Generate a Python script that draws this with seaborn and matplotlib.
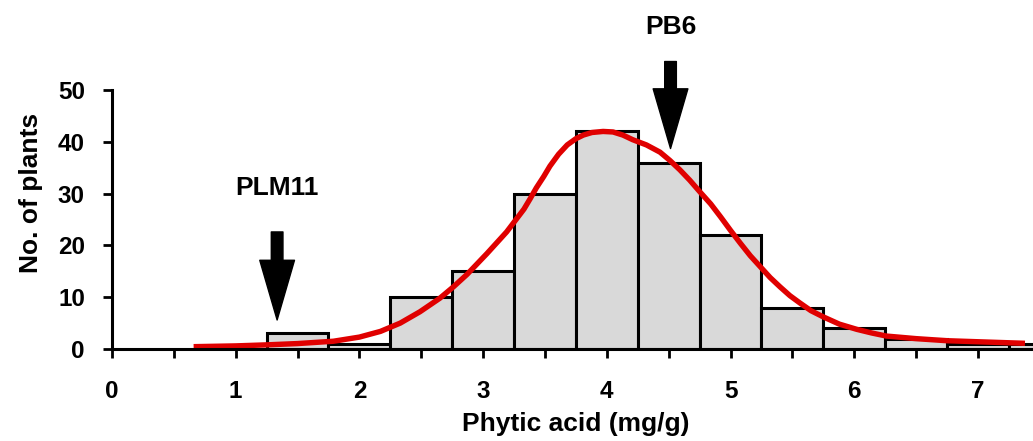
import numpy as np, pandas as pd, matplotlib
matplotlib.use('Agg')
import matplotlib.pyplot as plt
from matplotlib import font_manager
import seaborn as sns

# histogram bins (centre of each 0.5 wide class) and number of plants
bin_centres = [1.5, 2.0, 2.5, 3.0, 3.5, 4.0, 4.5, 5.0, 5.5, 6.0, 6.5, 7.0, 7.5]
plant_counts = [3, 1, 10, 15, 30, 42, 36, 22, 8, 4, 2, 1, 1]
bin_edges = [1.25 + 0.5 * i for i in range(len(bin_centres) + 1)]

# fitted curve
curve_x = [0.66, 1.0, 1.25, 1.5, 1.79, 2.0, 2.17, 2.33, 2.49, 2.65, 2.76, 2.87,
           2.95, 3.03, 3.11, 3.19, 3.26, 3.33, 3.38, 3.43, 3.49, 3.54, 3.61,
           3.68, 3.75, 3.81, 3.88, 3.97, 4.05, 4.13, 4.21, 4.32, 4.43, 4.51,
           4.59, 4.67, 4.75, 4.84, 4.92, 5.0, 5.08, 5.16, 5.24, 5.32, 5.40,
           5.48, 5.56, 5.65, 5.75, 5.88, 6.02, 6.14, 6.26, 6.5, 6.75, 7.0, 7.38]
curve_y = [0.45, 0.6, 0.8, 1.05, 1.5, 2.3, 3.4, 5.0, 7.2, 9.8, 12.0, 14.4,
           16.4, 18.4, 20.5, 22.6, 24.8, 27.0, 29.0, 31.1, 33.3, 35.3, 37.6,
           39.4, 40.6, 41.3, 41.8, 42.0, 41.9, 41.3, 40.4, 39.4, 38.0, 36.4,
           34.6, 32.6, 30.4, 28.0, 25.5, 22.9, 20.4, 18.0, 15.9, 13.8, 12.0,
           10.3, 8.9, 7.4, 6.2, 4.8, 3.8, 3.1, 2.5, 2.0, 1.6, 1.4, 1.1]

# marked parents: name, phytic acid value
parent_names = ['PLM11', 'PB6']
parent_x = [1.335, 4.515]
arrow_top = [22.6, 55.5]
arrow_tip = [5.6, 38.7]
label_y = [31.0, 62.2]

sns.set_style('ticks')
names = {f.name for f in font_manager.fontManager.ttflist}
fam = 'Liberation Sans Narrow' if 'Liberation Sans Narrow' in names else 'Liberation Sans'
plt.rcParams['font.family'] = [fam, 'DejaVu Sans']
plt.rcParams['font.weight'] = 'bold'
for k in ['text.color', 'axes.labelcolor', 'xtick.color', 'ytick.color', 'axes.edgecolor']:
    plt.rcParams[k] = 'black'

df = pd.DataFrame({'x': bin_centres, 'n': plant_counts})

fig = plt.figure(figsize=(10.33, 4.41), dpi=100)
ax = fig.add_axes([0.1084, 0.2086, 0.8916, 0.5873])

sns.histplot(data=df, x='x', weights='n', bins=bin_edges, color='#d9d9d9',
             edgecolor='black', linewidth=2.2, alpha=1, ax=ax)
sns.lineplot(x=curve_x, y=curve_y, color='#e00000', linewidth=3.9, ax=ax,
             sort=True, clip_on=False, solid_joinstyle='round', solid_capstyle='butt')

for name, px, top, tip, ly in zip(parent_names, parent_x, arrow_top, arrow_tip, label_y):
    ax.annotate('', xy=(px, tip), xytext=(px, top), annotation_clip=False,
                arrowprops=dict(arrowstyle='simple,head_width=1.25,head_length=2.15,tail_width=0.42',
                                color='black', shrinkA=0, shrinkB=0, mutation_scale=20))
    ax.text(px, ly, name, ha='center', va='center', fontsize=19, fontweight='bold',
            clip_on=False)

ax.set_xlim(0, 7.445)
ax.set_ylim(0, 50)
ax.set_xticks(range(0, 8))
ax.set_xticks(np.arange(0.5, 7.5, 1.0), minor=True)
ax.set_yticks(range(0, 51, 10))
ax.spines['top'].set_visible(False)
ax.spines['right'].set_visible(False)
for s in ['left', 'bottom']:
    ax.spines[s].set_linewidth(2.2)
ax.tick_params(axis='both', which='both', direction='out', length=6.5, width=2,
               labelsize=17.5, color='black')
ax.tick_params(axis='x', which='major', pad=16)
ax.tick_params(axis='y', which='major', pad=13)
for lab in ax.get_xticklabels() + ax.get_yticklabels():
    lab.set_fontweight('bold')

ax.set_xlabel('Phytic acid (mg/g)', fontsize=19, fontweight='bold')
ax.set_ylabel('No. of plants', fontsize=19, fontweight='bold')
ax.xaxis.set_label_coords(0.504, -0.243)
ax.yaxis.set_label_coords(-0.075, 0.603)

fig.savefig('out.png', dpi=100)
